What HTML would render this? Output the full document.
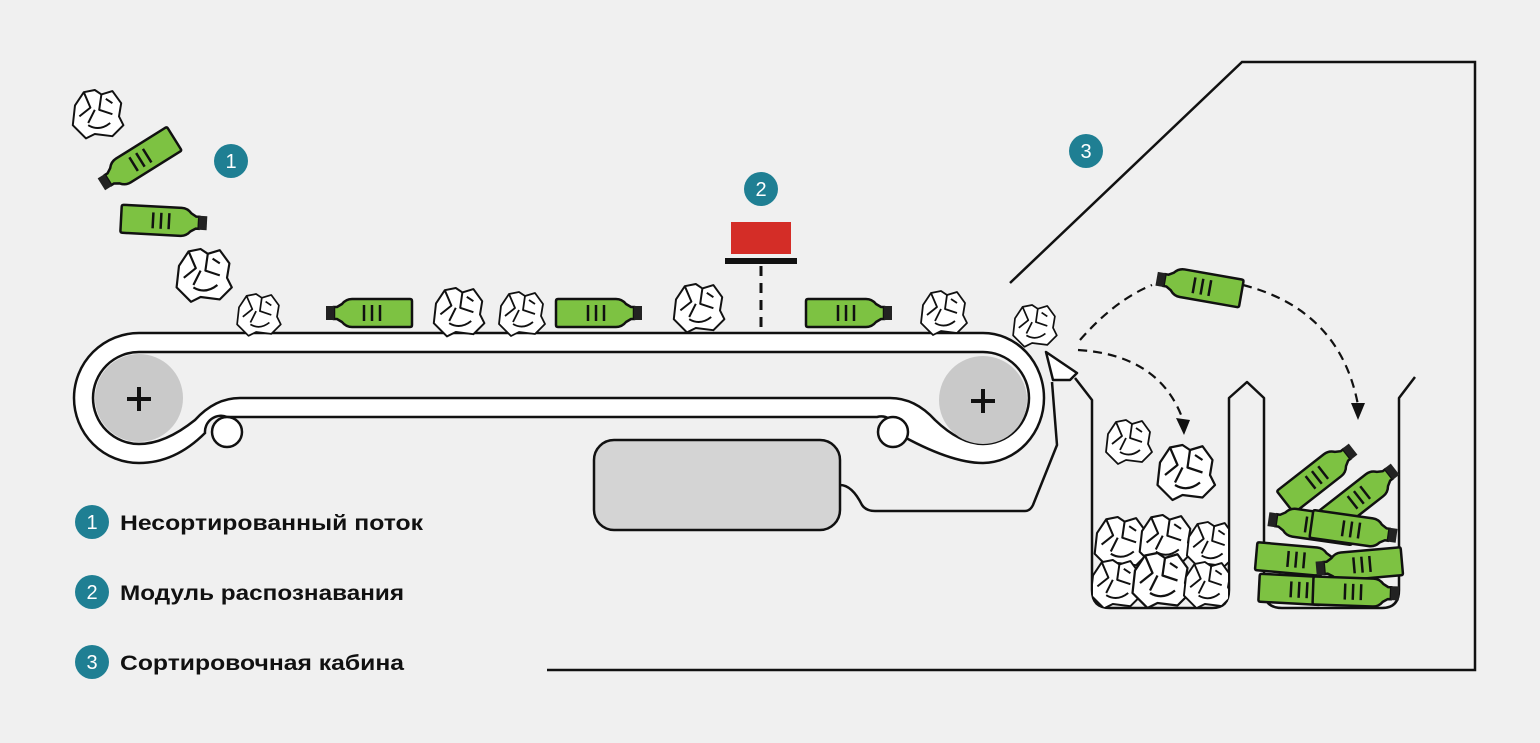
<!DOCTYPE html>
<html><head><meta charset="utf-8"><style>
html,body{margin:0;padding:0;background:#f0f0f0;}
svg{display:block}
text{font-family:"Liberation Sans",sans-serif;}
</style></head><body>
<svg width="1540" height="743" viewBox="0 0 1540 743" xmlns="http://www.w3.org/2000/svg">
<defs>
<g id="bot">
<path d="M-42,-14 L16,-14 Q22,-14 26,-9 L31,-6 L34,-6 L34,6 L31,6 L26,9 Q22,14 16,14 L-42,14 Q-44,14 -44,12 L-44,-12 Q-44,-14 -42,-14 Z" fill="#7dc242" stroke="#111" stroke-width="2.5"/>
<rect x="34" y="-7" width="8" height="14" fill="#222"/>
<path d="M-12,-8V8M-4,-8V8M4,-8V8" stroke="#111" stroke-width="2.5"/>
</g>
<g id="pap" fill="#fff" stroke="#111" stroke-width="1.8" stroke-linejoin="round">
<path d="M-20,-6 L-12,-18 L-2,-20 L4,-16 L14,-19 L22,-8 L20,4 L24,12 L14,22 L-2,20 L-10,24 L-22,12 Z"/>
<path d="M-12,-18 L-6,-4 L-16,4 M4,-16 L2,-2 L14,2 M-8,12 Q2,18 12,10 M-2,-2 L-8,10 M14,-8 L8,-12" fill="none"/>
</g>
<clipPath id="bin1"><rect x="1093" y="380" width="135" height="227"/></clipPath>
</defs>
<rect width="1540" height="743" fill="#f0f0f0"/>

<path d="M1010,283 L1242,62 L1475,62 L1475,670 L547,670" fill="none" stroke="#111" stroke-width="2.5"/>

<path d="M1044,398 A61,65 0 0 0 983,333 L139,333 A65,65 0 0 0 139,463 Q175,463 205,433 A16,16 0 0 1 227,417 L877,417 A16,16 0 0 1 897,433 Q950,463 983,463 A62,65 0 0 0 1044,398 Z" fill="#fff" stroke="#111" stroke-width="2.5"/>
<path d="M983,352 L139,352 A46,46 0 0 0 139,444 Q165,444 195,420 Q215,398 240,398 L890,398 Q915,398 935,420 Q960,444 983,444 A46,46 0 0 0 983,352 Z" fill="#f0f0f0" stroke="#111" stroke-width="2.5"/>
<circle cx="139" cy="398" r="44" fill="#c9c9c9"/>
<circle cx="983" cy="400" r="44" fill="#c9c9c9"/>
<path d="M127,399h24M139,387v24M971,401h24M983,389v24" stroke="#111" stroke-width="4"/>
<circle cx="227" cy="432" r="15" fill="#fff" stroke="#111" stroke-width="2.5"/>
<circle cx="893" cy="432" r="15" fill="#fff" stroke="#111" stroke-width="2.5"/>

<rect x="594" y="440" width="246" height="90" rx="20" fill="#d4d4d4" stroke="#111" stroke-width="2.5"/>
<path d="M840,485 Q852,485 862,505 Q866,511 875,511 L1025,511 Q1030,511 1033,505 L1057,445 L1052,382" fill="none" stroke="#111" stroke-width="2.5"/>
<path d="M1046,352 L1077,373 L1070,380 L1053,380 Z" fill="#fff" stroke="#111" stroke-width="2.5" stroke-linejoin="round"/>

<path d="M1075,378 L1092,400 L1092,590 Q1092,608 1110,608 L1212,608 Q1229,608 1229,590 L1229,398 L1247,382 L1264,398 L1264,590 Q1264,608 1282,608 L1382,608 Q1399,608 1399,590 L1399,398 L1415,377" fill="none" stroke="#111" stroke-width="2.5" stroke-linejoin="round"/>

<rect x="731" y="222" width="60" height="32" fill="#d42d27"/>
<rect x="725" y="258" width="72" height="6" fill="#111"/>
<path d="M761,266 V332" stroke="#111" stroke-width="3" stroke-dasharray="10,7"/>

<path d="M1078,350 Q1160,355 1183,420" fill="none" stroke="#111" stroke-width="2.2" stroke-dasharray="9,6"/>
<path d="M1176,418 L1190,420 L1184,435 Z" fill="#111"/>
<path d="M1080,340 Q1115,300 1152,285" fill="none" stroke="#111" stroke-width="2.2" stroke-dasharray="9,6"/>
<path d="M1243,285 Q1340,310 1358,405" fill="none" stroke="#111" stroke-width="2.2" stroke-dasharray="9,6"/>
<path d="M1351,403 L1365,403 L1358,420 Z" fill="#111"/>

<use href="#bot" transform="translate(137,162) rotate(-32) scale(-1,1)"/>
<use href="#bot" transform="translate(165,221) rotate(3)"/>
<use href="#bot" transform="translate(368,313) scale(-1,1)"/>
<use href="#bot" transform="translate(600,313)"/>
<use href="#bot" transform="translate(850,313)"/>
<use href="#bot" transform="translate(1198,286) rotate(10) scale(-1,1)"/>
<use href="#bot" transform="translate(1320,475) rotate(-38)"/>
<use href="#bot" transform="translate(1362,495) rotate(-38)"/>
<use href="#bot" transform="translate(1310,525) rotate(8) scale(-1,1)"/>
<use href="#bot" transform="translate(1355,530) rotate(8)"/>
<use href="#bot" transform="translate(1300,560) rotate(5)"/>
<use href="#bot" transform="translate(1358,565) rotate(-5) scale(-1,1)"/>
<use href="#bot" transform="translate(1303,590) rotate(3)"/>
<use href="#bot" transform="translate(1357,592) rotate(2)"/>

<use href="#pap" transform="translate(97,112) scale(1.1)"/>
<use href="#pap" transform="translate(203,273) scale(1.2)"/>
<use href="#pap" transform="translate(258,313) scale(0.95)"/>
<use href="#pap" transform="translate(458,310) scale(1.1)"/>
<use href="#pap" transform="translate(521,312) scale(1.0)"/>
<use href="#pap" transform="translate(698,306) scale(1.1)"/>
<use href="#pap" transform="translate(943,311) scale(1.0)"/>
<use href="#pap" transform="translate(1034,324) scale(0.95)"/>
<use href="#pap" transform="translate(1128,440) scale(1.0)"/>
<use href="#pap" transform="translate(1185,470) scale(1.25)"/>
<g clip-path="url(#bin1)">
<use href="#pap" transform="translate(1120,540) scale(1.15)"/>
<use href="#pap" transform="translate(1165,538) scale(1.15)"/>
<use href="#pap" transform="translate(1210,543) scale(1.05)"/>
<use href="#pap" transform="translate(1115,582) scale(1.1)"/>
<use href="#pap" transform="translate(1160,578) scale(1.25)"/>
<use href="#pap" transform="translate(1207,583) scale(1.05)"/>
</g>

<g fill="#1f7f93">
<circle cx="231" cy="161" r="17"/><circle cx="761" cy="189" r="17"/><circle cx="1086" cy="151" r="17"/>
<circle cx="92" cy="522" r="17"/><circle cx="92" cy="592" r="17"/><circle cx="92" cy="662" r="17"/>
</g>
<g fill="#fff" font-size="20" text-anchor="middle">
<text x="231" y="168">1</text><text x="761" y="196">2</text><text x="1086" y="158">3</text>
<text x="92" y="529">1</text><text x="92" y="599">2</text><text x="92" y="669">3</text>
</g>
<g fill="#111" font-size="21" font-weight="bold">
<text x="120" y="530" textLength="303" lengthAdjust="spacingAndGlyphs">Несортированный поток</text>
<text x="120" y="600" textLength="284" lengthAdjust="spacingAndGlyphs">Модуль распознавания</text>
<text x="120" y="670" textLength="284" lengthAdjust="spacingAndGlyphs">Сортировочная кабина</text>
</g>
</svg>
</body></html>
